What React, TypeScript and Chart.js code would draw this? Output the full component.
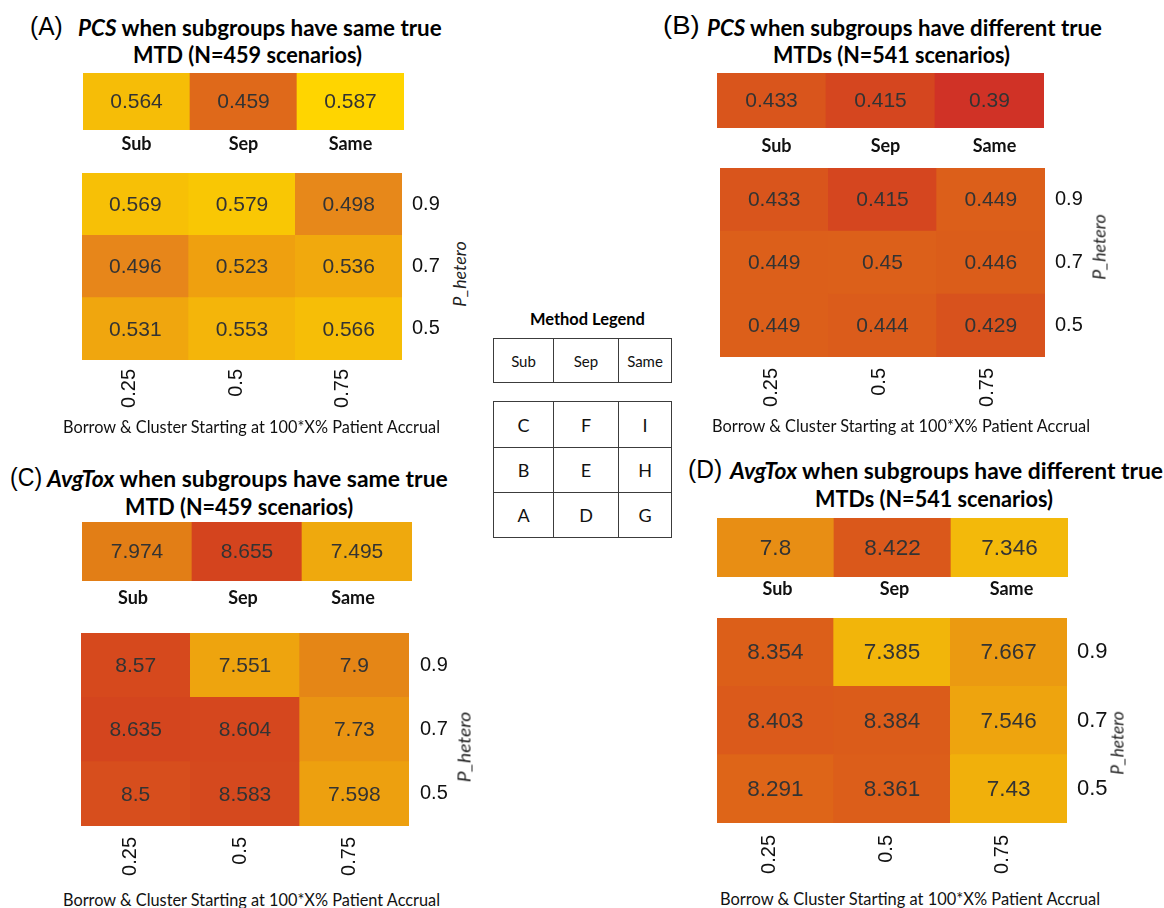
import React, { useEffect, useLayoutEffect, useRef } from 'react';
import { Chart, registerables } from 'chart.js';

Chart.register(...registerables);

// ---------------- data ----------------
const methods = ['Sub', 'Sep', 'Same'];
const borrowStart = ['0.25', '0.5', '0.75'];
const pHetero = ['0.9', '0.7', '0.5']; // top to bottom
const legendTop = ['Sub', 'Sep', 'Same'];
const legendGrid = [
  ['C', 'F', 'I'],
  ['B', 'E', 'H'],
  ['A', 'D', 'G'],
];

const pcsSameMethod = [0.564, 0.459, 0.587];
const pcsSameGrid = [
  [0.569, 0.579, 0.498],
  [0.496, 0.523, 0.536],
  [0.531, 0.553, 0.566],
];
const pcsDiffMethod = [0.433, 0.415, 0.39];
const pcsDiffGrid = [
  [0.433, 0.415, 0.449],
  [0.449, 0.45, 0.446],
  [0.449, 0.444, 0.429],
];
const toxSameMethod = [7.974, 8.655, 7.495];
const toxSameGrid = [
  [8.57, 7.551, 7.9],
  [8.635, 8.604, 7.73],
  [8.5, 8.583, 7.598],
];
const toxDiffMethod = [7.8, 8.422, 7.346];
const toxDiffGrid = [
  [8.354, 7.385, 7.667],
  [8.403, 8.384, 7.546],
  [8.291, 8.361, 7.43],
];

// ---------------- styles ----------------
const pcsStops: [number, string][] = [
  [0.39, '#D03226'],
  [0.415, '#D5461F'],
  [0.433, '#D9551C'],
  [0.45, '#DC601A'],
  [0.459, '#DF691A'],
  [0.497, '#E7871A'],
  [0.523, '#EFA00F'],
  [0.536, '#F1A90D'],
  [0.553, '#F4B50A'],
  [0.566, '#F6BE07'],
  [0.579, '#F9C704'],
  [0.587, '#FFD500'],
];
const toxStops: [number, string][] = [
  [7.346, '#F3B90A'],
  [7.43, '#F1B00B'],
  [7.55, '#EEA40E'],
  [7.73, '#EA9412'],
  [7.9, '#E58616'],
  [7.974, '#E27E16'],
  [8.291, '#DE6518'],
  [8.422, '#DA581B'],
  [8.5, '#D74E1D'],
  [8.655, '#D4441E'],
];

function colorScale(stops: [number, string][]) {
  const rgb = stops.map(([v, h]) => [
    v,
    parseInt(h.slice(1, 3), 16),
    parseInt(h.slice(3, 5), 16),
    parseInt(h.slice(5, 7), 16),
  ]);
  const fmt = (c: number[]) => `rgb(${c[1]},${c[2]},${c[3]})`;
  return (v: number) => {
    if (v <= rgb[0][0]) return fmt(rgb[0]);
    for (let i = 1; i < rgb.length; i++) {
      if (v <= rgb[i][0]) {
        const a = rgb[i - 1];
        const b = rgb[i];
        const t = (v - a[0]) / (b[0] - a[0]);
        return `rgb(${[1, 2, 3].map((k) => Math.round(a[k] + (b[k] - a[k]) * t)).join(',')})`;
      }
    }
    return fmt(rgb[rgb.length - 1]);
  };
}
const pcsColor = colorScale(pcsStops);
const toxColor = colorScale(toxStops);

const ARIAL = "'Liberation Sans', Arial, sans-serif";
const CAL = "Lato, 'Open Sans', sans-serif";

// ---------------- chart plugin: cell value labels ----------------
const cellValuePlugin = {
  id: 'cellValues',
  afterDatasetsDraw(chart: any, _args: any, opts: any) {
    const ctx = chart.ctx;
    ctx.save();
    ctx.font = `${opts.size}px ${ARIAL}`;
    ctx.fillStyle = opts.color || '#333';
    ctx.textAlign = 'center';
    ctx.textBaseline = 'middle';
    chart.data.datasets.forEach((ds: any, di: number) => {
      const meta = chart.getDatasetMeta(di);
      meta.data.forEach((el: any, i: number) => {
        const p = el.getProps(['x', 'y', 'base'], true);
        ctx.fillText(String(ds.cellValues[i]), p.x, (p.y + p.base) / 2 + (opts.dy || 0));
      });
    });
    ctx.restore();
  },
};

type HeatProps = {
  left: number;
  top: number;
  w: number;
  h: number;
  cols: string[];
  rows: string[] | null;
  values: number[][];
  color: (v: number) => string;
  xFont: any;
  rotate: boolean;
  xPad: number;
  xOff: number;
  yPad?: number;
  yFontSize?: number;
  valueSize: number;
  rightW?: number;
  bottomH: number;
};

function Heatmap(p: HeatProps) {
  const ref = useRef<HTMLCanvasElement>(null);
  const rightW = p.rows ? p.rightW || 45 : 0;
  useEffect(() => {
    const nRows = p.values.length;
    const bottomFirst = [...p.values].reverse();
    const rowsBottomFirst = p.rows ? [...p.rows].reverse() : [];
    const chart = new Chart(ref.current as HTMLCanvasElement, {
      type: 'bar',
      data: {
        labels: p.cols,
        datasets: bottomFirst.map((row) => ({
          data: row.map(() => 1),
          cellValues: row,
          backgroundColor: row.map(p.color),
          borderWidth: 0,
          barPercentage: 1,
          categoryPercentage: 1,
        })) as any,
      },
      options: {
        responsive: false,
        animation: false,
        devicePixelRatio: 1,
        layout: { padding: 0 },
        events: [],
        plugins: {
          legend: { display: false },
          tooltip: { enabled: false },
          cellValues: { size: p.valueSize, color: '#333', dy: 1 },
        } as any,
        scales: {
          x: {
            type: 'category',
            stacked: true,
            offset: true,
            grid: { display: false, drawTicks: false },
            border: { display: false },
            ticks: {
              font: p.xFont,
              color: '#111',
              padding: p.xPad,
              labelOffset: p.xOff,
              minRotation: p.rotate ? 90 : 0,
              maxRotation: p.rotate ? 90 : 0,
              autoSkip: false,
            },
            afterFit: (s: any) => {
              s.height = p.bottomH;
              s.paddingLeft = 0;
              s.paddingRight = 0;
            },
          },
          y: {
            type: 'linear',
            stacked: true,
            min: 0,
            max: nRows,
            position: 'right',
            display: !!p.rows,
            grid: { display: false, drawTicks: false },
            border: { display: false },
            afterBuildTicks: (s: any) => {
              s.ticks = rowsBottomFirst.map((_, i) => ({ value: i + 0.5 }));
            },
            ticks: {
              font: { family: ARIAL, size: p.yFontSize || 20 },
              color: '#111',
              padding: p.yPad || 10,
              autoSkip: false,
              callback: (v: any) => rowsBottomFirst[Math.floor(Number(v))],
            },
            afterFit: (s: any) => {
              s.width = rightW;
              s.paddingTop = 0;
              s.paddingBottom = 0;
            },
          },
        } as any,
      },
      plugins: [cellValuePlugin as any],
    });
    return () => chart.destroy();
  }, []);
  return (
    <canvas
      ref={ref}
      width={p.w + rightW}
      height={p.h + p.bottomH}
      style={{ position: 'absolute', left: p.left, top: p.top, width: p.w + rightW, height: p.h + p.bottomH }}
    />
  );
}

// ---------------- text helpers ----------------
function FitText(props: { x0: number; x1: number; cy: number; style?: any; children: any }) {
  const ref = useRef<HTMLSpanElement>(null);
  useLayoutEffect(() => {
    const apply = () => {
      const el = ref.current;
      if (!el) return;
      const nat = el.offsetWidth;
      if (nat > 0) el.style.transform = `translateY(-50%) scaleX(${(props.x1 - props.x0) / nat})`;
    };
    apply();
    (document as any).fonts?.ready?.then(apply);
  }, []);
  return (
    <span
      ref={ref}
      style={{
        position: 'absolute',
        left: props.x0,
        top: props.cy,
        whiteSpace: 'nowrap',
        lineHeight: 1,
        transformOrigin: '0 50%',
        transform: 'translateY(-50%)',
        color: '#000',
        ...props.style,
      }}
    >
      {props.children}
    </span>
  );
}

function RotText(props: { cx: number; cy: number; len: number; style?: any; children: any }) {
  const ref = useRef<HTMLSpanElement>(null);
  useLayoutEffect(() => {
    const apply = () => {
      const el = ref.current;
      if (!el) return;
      const nat = el.offsetWidth;
      if (nat > 0) el.style.transform = `translate(-50%, -50%) rotate(-90deg) scaleX(${props.len / nat})`;
    };
    apply();
    (document as any).fonts?.ready?.then(apply);
  }, []);
  return (
    <span
      ref={ref}
      style={{
        position: 'absolute',
        left: props.cx,
        top: props.cy,
        whiteSpace: 'nowrap',
        lineHeight: 1,
        transform: 'translate(-50%, -50%) rotate(-90deg)',
        color: '#222',
        ...props.style,
      }}
    >
      {props.children}
    </span>
  );
}

// ---------------- panel layouts ----------------
const panels = [
  {
    tag: '(A)', metric: 'PCS', rest: ' when subgroups have same true', line2: 'MTD (N=459 scenarios)',
    method: pcsSameMethod, grid: pcsSameGrid, color: pcsColor,
    tagPos: { x0: 30, x1: 63, cy: 26 }, l1: { x0: 78, x1: 442, cy: 27 }, l2: { x0: 133, x1: 362, cy: 54 },
    top: { left: 83, top: 73, w: 321, h: 57, xPad: 3, xOff: 0 },
    g: { left: 82, top: 173, w: 320, h: 187, xPad: 9, xOff: -6, yPad: 10 },
    ph: { cx: 459, cy: 274, len: 65 }, xt: { x0: 63, x1: 440, cy: 426 },
    valueSize: 21, yFontSize: 20,
  },
  {
    tag: '(B)', metric: 'PCS', rest: ' when subgroups have different true', line2: 'MTDs (N=541 scenarios)',
    method: pcsDiffMethod, grid: pcsDiffGrid, color: pcsColor,
    tagPos: { x0: 663, x1: 700, cy: 25 }, l1: { x0: 707, x1: 1102, cy: 27 }, l2: { x0: 773, x1: 1010, cy: 54 },
    top: { left: 717, top: 73, w: 327, h: 55, xPad: 7, xOff: 5 },
    g: { left: 720, top: 168, w: 325, h: 189, xPad: 11, xOff: -3, yPad: 10 },
    ph: { cx: 1099, cy: 247, len: 65 }, xt: { x0: 712, x1: 1090, cy: 425 },
    valueSize: 21, yFontSize: 20,
  },
  {
    tag: '(C)', metric: 'AvgTox', rest: ' when subgroups have same true', line2: 'MTD (N=459 scenarios)',
    method: toxSameMethod, grid: toxSameGrid, color: toxColor,
    tagPos: { x0: 10, x1: 42, cy: 477 }, l1: { x0: 47, x1: 448, cy: 478 }, l2: { x0: 125, x1: 353, cy: 506 },
    top: { left: 82, top: 522, w: 330, h: 59, xPad: 6, xOff: -4 },
    g: { left: 81, top: 633, w: 328, h: 193, xPad: 11, xOff: -5, yPad: 11 },
    ph: { cx: 464, cy: 747, len: 70 }, xt: { x0: 63, x1: 440, cy: 899 },
    valueSize: 21, yFontSize: 20,
  },
  {
    tag: '(D)', metric: 'AvgTox', rest: ' when subgroups have different true', line2: 'MTDs (N=541 scenarios)',
    method: toxDiffMethod, grid: toxDiffGrid, color: toxColor,
    tagPos: { x0: 688, x1: 722, cy: 469 }, l1: { x0: 730, x1: 1163, cy: 470 }, l2: { x0: 815, x1: 1053, cy: 498 },
    top: { left: 717, top: 518, w: 351, h: 59, xPad: 1, xOff: 2 },
    g: { left: 717, top: 618, w: 350, h: 205, xPad: 12, xOff: -6, yPad: 10 },
    ph: { cx: 1117, cy: 743, len: 63 }, xt: { x0: 720, x1: 1100, cy: 898 },
    valueSize: 22.5, yFontSize: 22,
  },
];

const legendCols = [493, 553, 618, 671];
const legendTopRows = [338, 382];
const legendGridRows = [401, 447, 492, 537];

function LegendTable({ rows, cells, fontSize }: { rows: number[]; cells: string[][]; fontSize: number }) {
  const out: any[] = [];
  cells.forEach((r, ri) =>
    r.forEach((txt, ci) => {
      const x = legendCols[ci];
      const y = rows[ri];
      const w = legendCols[ci + 1] - x + 1;
      const h = rows[ri + 1] - y + 1;
      out.push(
        <div
          key={`${ri}-${ci}`}
          style={{
            position: 'absolute',
            left: x,
            top: y,
            width: w,
            height: h,
            boxSizing: 'border-box',
            border: '1px solid #3c3c3c',
            display: 'flex',
            alignItems: 'center',
            justifyContent: 'center',
            fontFamily: CAL,
            fontSize,
            color: '#111',
          }}
        >
          {txt}
        </div>
      );
    })
  );
  return <>{out}</>;
}

export default function App() {
  return (
    <div style={{ position: 'absolute', left: 0, top: 0, width: 1164, height: 908, background: '#fff', overflow: 'hidden' }}>
      {panels.map((p, i) => (
        <React.Fragment key={i}>
          <FitText {...p.tagPos} style={{ fontFamily: ARIAL, fontSize: 26 }}>
            {p.tag}
          </FitText>
          <FitText {...p.l1} style={{ fontFamily: CAL, fontSize: 23, fontWeight: 700 }}>
            <i>{p.metric}</i>
            {p.rest}
          </FitText>
          <FitText {...p.l2} style={{ fontFamily: CAL, fontSize: 23, fontWeight: 700 }}>
            {p.line2}
          </FitText>
          <Heatmap
            {...p.top}
            cols={methods}
            rows={null}
            values={[p.method]}
            color={p.color}
            xFont={{ family: CAL, size: 18, weight: 'bold' }}
            rotate={false}
            valueSize={p.valueSize}
            bottomH={30}
          />
          <Heatmap
            {...p.g}
            cols={borrowStart}
            rows={pHetero}
            values={p.grid}
            color={p.color}
            xFont={{ family: ARIAL, size: 20 }}
            rotate={true}
            valueSize={p.valueSize}
            yFontSize={p.yFontSize}
            rightW={45}
            bottomH={62}
          />
          <RotText {...p.ph} style={{ fontFamily: CAL, fontSize: 17, fontStyle: 'italic' }}>
            P_hetero
          </RotText>
          <FitText {...p.xt} style={{ fontFamily: CAL, fontSize: 17, color: '#111' }}>
            Borrow &amp; Cluster Starting at 100*X% Patient Accrual
          </FitText>
        </React.Fragment>
      ))}
      <FitText x0={530} x1={645} cy={318} style={{ fontFamily: CAL, fontSize: 17, fontWeight: 700 }}>
        Method Legend
      </FitText>
      <LegendTable rows={legendTopRows} cells={[legendTop]} fontSize={15} />
      <LegendTable rows={legendGridRows} cells={legendGrid} fontSize={18} />
    </div>
  );
}
